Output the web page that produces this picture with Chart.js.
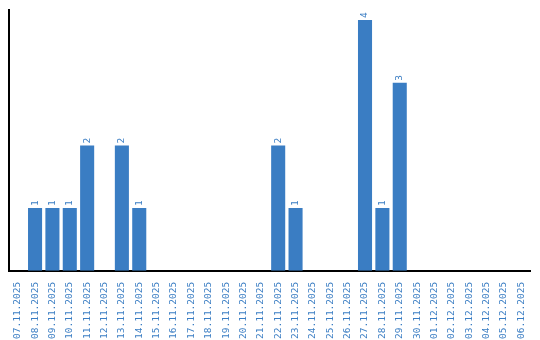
<!DOCTYPE html>
<html>
<head>
<meta charset="utf-8">
<script src="https://cdn.jsdelivr.net/npm/chart.js@4"></script>
<style>
  html, body { margin: 0; padding: 0; background: #fff; }
  #wrap { width: 540px; height: 340px; }
</style>
</head>
<body>
<div id="wrap"><canvas id="chart"></canvas></div>
<script>
const days = [
  "07.11.2025", "08.11.2025", "09.11.2025", "10.11.2025", "11.11.2025",
  "12.11.2025", "13.11.2025", "14.11.2025", "15.11.2025", "16.11.2025",
  "17.11.2025", "18.11.2025", "19.11.2025", "20.11.2025", "21.11.2025",
  "22.11.2025", "23.11.2025", "24.11.2025", "25.11.2025", "26.11.2025",
  "27.11.2025", "28.11.2025", "29.11.2025", "30.11.2025", "01.12.2025",
  "02.12.2025", "03.12.2025", "04.12.2025", "05.12.2025", "06.12.2025"
];
const counts = [
  0, 1, 1, 1, 2,
  0, 2, 1, 0, 0,
  0, 0, 0, 0, 0,
  2, 1, 0, 0, 0,
  4, 1, 3, 0, 0,
  0, 0, 0, 0, 0
];

const blue = "#3a7dc3";
const monoFont = "'DejaVu Sans Mono', monospace";

// draws the count above each bar, turned on its side
const valueLabels = {
  id: "valueLabels",
  afterDatasetsDraw(chart) {
    const c = chart.ctx;
    const meta = chart.getDatasetMeta(0);
    c.save();
    c.fillStyle = blue;
    c.font = "9.5px " + monoFont;
    c.textAlign = "left";
    c.textBaseline = "middle";
    meta.data.forEach((bar, i) => {
      if (!counts[i]) return;
      c.save();
      c.translate(bar.x, bar.y - 2);
      c.rotate(-Math.PI / 2);
      c.fillText(String(counts[i]), 0, 0);
      c.restore();
    });
    c.restore();
  }
};

document.addEventListener("DOMContentLoaded", function () {
  const ctx = document.getElementById("chart").getContext("2d");
  new Chart(ctx, {
    type: "bar",
    data: {
      labels: days,
      datasets: [{
        data: counts,
        backgroundColor: blue,
        borderWidth: 0,
        barPercentage: 0.81,
        categoryPercentage: 1
      }]
    },
    options: {
      responsive: true,
      maintainAspectRatio: false,
      animation: false,
      layout: { padding: { left: 1, right: 10, top: 10, bottom: -2 } },
      plugins: {
        legend: { display: false },
        tooltip: { enabled: false }
      },
      scales: {
        x: {
          grid: { display: false },
          border: { color: "#000", width: 2 },
          ticks: {
            color: blue,
            font: { family: monoFont, size: 9.5 },
            maxRotation: 90,
            minRotation: 90,
            autoSkip: false,
            padding: 3
          }
        },
        y: {
          min: 0,
          max: 4.16,
          grid: { display: false },
          border: { color: "#000", width: 2 },
          ticks: { display: false }
        }
      }
    },
    plugins: [valueLabels]
  });
});
</script>
</body>
</html>
